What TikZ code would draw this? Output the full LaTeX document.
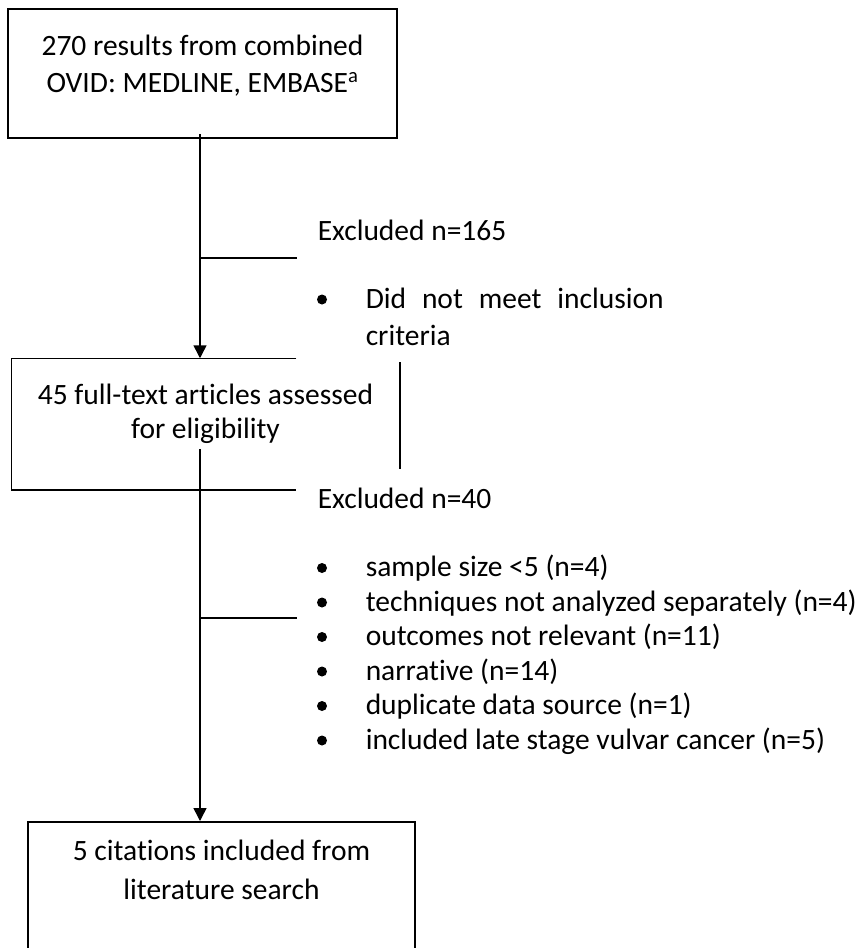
\documentclass[tikz,border=0pt]{standalone}
\usepackage{fontspec}
\setmainfont{Carlito}[Ligatures=NoCommon]
\usetikzlibrary{arrows.meta,calc}
\begin{document}
\begin{tikzpicture}[x=1pt,y=-1pt,
  line width=1.5pt,
  txt/.style={inner sep=0pt, anchor=base, font=\fontsize{29.5}{35}\selectfont},
  ltxt/.style={txt, anchor=base west},
  boxst/.style={draw, line width=1.5pt, inner sep=0pt},
  dot/.style={circle, fill=black, draw=none, inner sep=0pt, minimum size=10pt},
  arr/.style={-{Triangle[width=13pt,length=13pt]}}
]
\clip (0,0) rectangle (858,948);
\fill[white] (0,0) rectangle (858,948);

% box 1
\node[boxst, minimum width=389pt, minimum height=129pt] (b1) at (202.5,73.5) {};
\node[txt] (b1l1) at (202.5,55) {270 results from combined};
\node[txt] (b1l2) at (202.5,92) {OVID: MEDLINE, EMBASE\textsuperscript{a}};

% box 2 (partly covered)
\node[inner sep=0pt, minimum width=387pt, minimum height=130pt] (b2) at (205.5,424) {};
\draw ($(b2.north west)+(285,0)$) -- (b2.north west) -- (b2.south west) -- ($(b2.south west)+(285,0)$);
\draw ($(b2.north east)+(0,4)$) -- ($(b2.south east)+(0,-21)$);
\node[txt] (b2l1) at (205.5,404) {45 full-text articles assessed};
\node[txt] (b2l2) at (205.5,438) {for eligibility};

% box 3
\node[boxst, minimum width=387pt, minimum height=160pt, anchor=north] (b3) at (221.5,821) {};
\node[txt] (b3l1) at (221.5,860) {5 citations included from};
\node[txt] (b3l2) at (221.5,899) {literature search};

% connectors
\draw[arr] ($(b1.south)+(-2.5,-5)$) -- ($(b2.north)+(-5.5,0)$);
\draw[arr] ($(b2.south)+(-5.5,-41)$) -- ($(b3.north)+(-21.5,0)$);
\coordinate (br1) at (200,258);
\coordinate (br1e) at (297,258);
\draw (br1) -- (br1e);
\coordinate (br2) at (200,618);
\coordinate (br2e) at (297,618);
\draw (br2) -- (br2e);

% exclusions 1
\node[ltxt] (ex1) at (317,240) {Excluded n=165};
\node[dot] (bu1) at (322,299.5) {};
\node[ltxt] (ex1a) at (365,308) {\hbox to 298pt{Did\hfill not\hfill meet\hfill inclusion}};
\node[ltxt] (ex1b) at (365,345) {criteria};

% exclusions 2
\node[ltxt] (ex2) at (317,508) {Excluded n=40};
\foreach \y/\t [count=\i] in {576.5/{sample size <5 (n=4)},
  611/{techniques not analyzed separately (n=4)},
  645.5/{outcomes not relevant (n=11)},
  680/{narrative (n=14)},
  714.5/{duplicate data source (n=1)},
  749/{included late stage vulvar cancer (n=5)}}{
  \node[dot] (bb\i) at (322,\y-8.5) {};
  \node[ltxt] (it\i) at (365,\y) {\t};
}
\end{tikzpicture}
\end{document}
